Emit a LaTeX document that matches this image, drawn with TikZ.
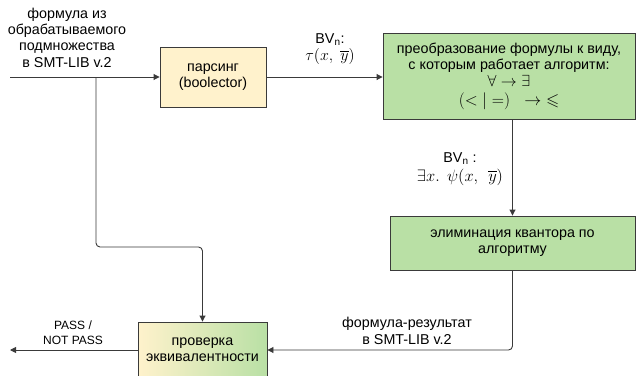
\RequirePackage{fix-cm}
\documentclass[tikz,border=0pt]{standalone}
\usepackage{amsmath,amssymb}
\usepackage{fontspec}
\setmainfont{Liberation Sans}
\usetikzlibrary{arrows.meta,calc}
\definecolor{lyel}{HTML}{FFF2CC}
\definecolor{lgrn}{HTML}{B9E0A5}
\definecolor{edge}{HTML}{3A3A3A}
\newcommand{\mathbig}[2]{{\fontsize{#1}{#1}\selectfont$#2$}}
\tikzset{
  box/.style={draw=edge, line width=0.9pt, align=center, inner sep=2pt,
    font=\fontsize{14.3}{16}\selectfont},
  ybox/.style={box, fill=lyel},
  gbox/.style={box, fill=lgrn},
  grbox/.style={box, left color=lyel, right color=lgrn},
  lbl/.style={align=center, inner sep=1pt, font=\fontsize{14.3}{16.3}\selectfont},
  slbl/.style={align=center, inner sep=1pt, font=\fontsize{12}{15}\selectfont},
  conn/.style={draw=edge, line width=0.9pt, rounded corners=4pt},
  arr/.style={conn, -{Triangle[length=6pt,width=6pt]}}
}
\begin{document}
\begin{tikzpicture}[x=1pt,y=-1pt]
\useasboundingbox (0,0) rectangle (637,375);
% nodes
\node[ybox, minimum width=106pt, minimum height=60pt] (parse) at (213,77) {парсинг\\(boolector)};
\node[gbox, minimum width=252pt, minimum height=86pt] (trans) at (509,76)
  {преобразование формулы к виду,\\с которым работает алгоритм:\\[1.5pt]\mathbig{16}{\forall \rightarrow \exists}\\[2.5pt]\mathbig{17}{(<|=)\ \ \rightarrow\; \leqslant}};
\node[gbox, minimum width=245pt, minimum height=54pt] (elim) at (512.5,243) {элиминация квантора по\\алгоритму};
\node[grbox, minimum width=129pt, minimum height=56pt] (check) at (202.5,350) {проверка\\эквивалентности};
% coordinates
\coordinate (in) at (10,77);
\coordinate (br) at (96,77);
\coordinate (bend) at (96,247);
\coordinate (out) at (10,350);
% labels
\node[lbl] (linp) at (67,37.5) {формула из\\обрабатываемого\\подмножества\\в SMT-LIB v.2};
\node[lbl] (lbv1) at (330,49) {BV\textsubscript{n}:\\[1pt]\mathbig{16}{\tau(x,\ \overline{y})}};
\node[lbl] (lbv2) at (460,169) {BV\textsubscript{n} :\\[2pt]\mathbig{16.5}{\exists x.\ \,\psi(x,\ \,\overline{y})}};
\node[lbl] (lres) at (407,331) {формула-результат\\в SMT-LIB v.2};
\node[slbl] (lpass) at (73,333) {PASS /\\NOT PASS};
% connectors
\draw[arr] (in) -- (parse.west);
\draw[arr] (parse.east) -- (trans.west |- parse.east);
\draw[arr] (trans.south -| elim.north) -- (elim.north);
\draw[arr] (elim.south) |- (check.east);
\draw[arr] (br) -- (bend) -| (check.north);
\draw[arr] (check.west) -- (out);
\end{tikzpicture}
\end{document}
